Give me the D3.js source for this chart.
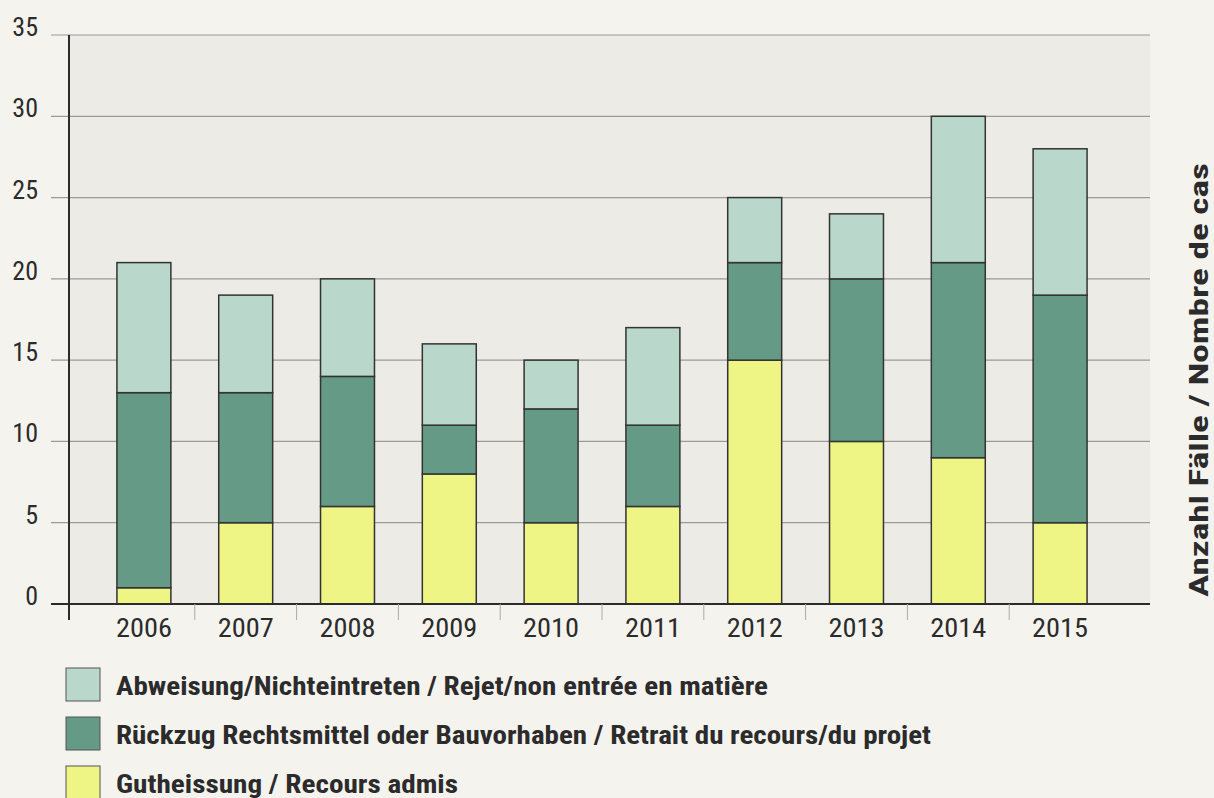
<!DOCTYPE html>
<html><head><meta charset="utf-8">
<script src="https://cdn.jsdelivr.net/npm/d3@7"></script>
<style>
html,body{margin:0;padding:0;background:#f4f3ee;}
svg{display:block;}
text{font-family:"Liberation Sans Narrow","Arial Narrow","Roboto Condensed",sans-serif;fill:#2b2b2b;}
</style></head>
<body><svg id="c" width="1214" height="798"></svg>
<script>
const years = ["2006","2007","2008","2009","2010","2011","2012","2013","2014","2015"];
const admis = [1,5,6,8,5,6,15,10,9,5];
const retrait = [12,8,8,3,7,5,6,10,12,14];
const rejet = [8,6,6,5,3,6,4,4,9,9];
const yTicks = [0,5,10,15,20,25,30,35];
const seriesNames = [
  "Gutheissung / Recours admis",
  "Rückzug Rechtsmittel oder Bauvorhaben / Retrait du recours/du projet",
  "Abweisung/Nichteintreten / Rejet/non entrée en matière"
];
const colors = ["#eef584","#659a86","#b9d8cb"];
const axisTitle = "Anzahl Fälle / Nombre de cas";

const svg = d3.select("#c");
const x = d3.scaleBand().domain(years).range([93,1111]).paddingInner(0.47).paddingOuter(0.235);
const y = d3.scaleLinear().domain([0,35]).range([604,35]);

// plot background
svg.append("rect").attr("x",69).attr("y",y(35)).attr("width",1150-69).attr("height",y(0)-y(35)).attr("fill","#ecebe6");

// gridlines
svg.append("g").selectAll("line").data(yTicks.filter(d=>d>0)).join("line")
  .attr("x1",51).attr("x2",1150).attr("y1",d=>y(d)).attr("y2",d=>y(d))
  .attr("stroke","#9a9a96").attr("stroke-width",1.2);

// y labels
svg.append("g").selectAll("text").data(yTicks).join("text")
  .attr("x",38).attr("y",d=>y(d)+1).attr("text-anchor","end")
  .attr("font-size",26).text(d=>d);

// stacks
const rows = years.map((yr,i)=>({year:yr,a:admis[i],r:retrait[i],j:rejet[i]}));
const stack = d3.stack().keys(["a","r","j"])(rows);
svg.append("g").selectAll("g").data(stack).join("g")
  .attr("fill",(d,i)=>colors[i])
  .selectAll("rect").data(d=>d).join("rect")
  .attr("x",d=>x(d.data.year)).attr("width",x.bandwidth())
  .attr("y",d=>y(d[1])).attr("height",d=>y(d[0])-y(d[1]))
  .attr("stroke","#333").attr("stroke-width",1.5);

// x axis baseline
svg.append("line").attr("x1",51).attr("x2",1150).attr("y1",y(0)).attr("y2",y(0)).attr("stroke","#2b2b2b").attr("stroke-width",2);
// y axis
svg.append("line").attr("x1",69).attr("x2",69).attr("y1",y(35)).attr("y2",y(0)+16).attr("stroke","#2b2b2b").attr("stroke-width",2);
// x separator ticks
const step = x.step();
svg.append("g").selectAll("line").data(years.slice(1)).join("line")
  .attr("x1",d=>x(d)-(step-x.bandwidth())/2).attr("x2",d=>x(d)-(step-x.bandwidth())/2)
  .attr("y1",y(0)).attr("y2",y(0)+16).attr("stroke","#aaa").attr("stroke-width",1);
// x labels
svg.append("g").selectAll("text").data(years).join("text")
  .attr("x",d=>x(d)+x.bandwidth()/2).attr("y",637).attr("text-anchor","middle")
  .attr("font-size",26).attr("textLength",56).attr("lengthAdjust","spacingAndGlyphs").text(d=>d);

// right axis title
svg.append("text").attr("transform","translate(1208,380) rotate(-90)")
  .attr("text-anchor","middle").attr("font-size",26).attr("font-weight","bold")
  .attr("textLength",434).attr("lengthAdjust","spacingAndGlyphs").text(axisTitle);

// legend
const legOrder = [2,1,0];
const legLen = {2:652, 1:815, 0:342};
const lg = svg.append("g").selectAll("g").data(legOrder).join("g")
  .attr("transform",(d,i)=>`translate(66,${668+i*49})`);
lg.append("rect").attr("width",34).attr("height",33).attr("fill",d=>colors[d]).attr("stroke","#555").attr("stroke-width",1);
lg.append("text").attr("x",50).attr("y",27).attr("font-size",25).attr("font-weight","bold")
  .attr("textLength",d=>legLen[d]).attr("lengthAdjust","spacingAndGlyphs").text(d=>seriesNames[d]);
</script></body></html>
